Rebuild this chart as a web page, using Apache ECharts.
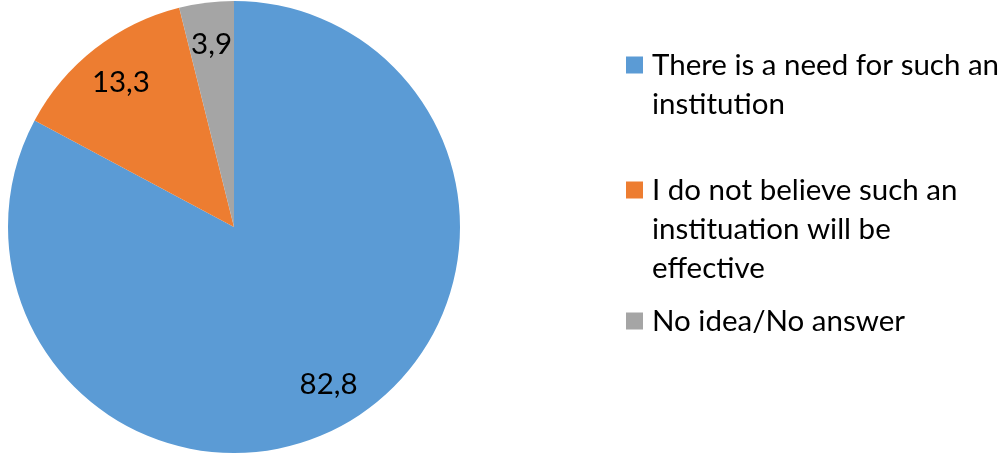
<!DOCTYPE html>
<html>
<head>
<meta charset="utf-8">
<script src="https://cdn.jsdelivr.net/npm/echarts@6/dist/echarts.min.js"></script>
<style>
  html, body { margin: 0; padding: 0; background: #fff; }
  #chart { width: 1005px; height: 459px; }
</style>
</head>
<body>
<div id="chart"></div>
<script>
// Survey answers, in percent
const categories = [
  'There is a need for such an institution',
  'I do not believe such an instituation will be effective',
  'No idea/No answer'
];
const values = [82.8, 13.3, 3.9];
// Legend text broken into lines
const legendLines = [
  ['There is a need for such an', 'institution'],
  ['I do not believe such an', 'instituation will be', 'effective'],
  ['No idea/No answer']
];
const colors = ['#5B9BD5', '#ED7D31', '#A5A5A5'];

const FONT = 'Lato';
const FONT_SIZE = 29.5;
const LINE_H = 39;
const CX = 234, CY = 227, R = 226;

const pieData = categories.map((name, i) => ({
  name: name,
  value: values[i],
  itemStyle: { color: colors[i] }
}));

// One legend per entry; blank lines above the text keep each square
// level with the first line of its label
const iconCenters = [65, 190, 321];
const textRaise = [12, 0, 0];
const legends = categories.map((name, i) => {
  const n = legendLines[i].length;
  const block = (2 * n - 1) * LINE_H + textRaise[i];
  return {
    data: [name],
    orient: 'vertical',
    left: 626,
    top: iconCenters[i] - block / 2,
    padding: 0,
    itemWidth: 17,
    itemHeight: 17,
    icon: 'rect',
    selectedMode: false,
    formatter: () => '\n'.repeat(n - 1) + legendLines[i].join('\n'),
    textStyle: {
      fontFamily: FONT,
      fontSize: FONT_SIZE,
      lineHeight: LINE_H,
      color: '#000',
      padding: [0, 0, textRaise[i], 4]
    }
  };
});

const chart = echarts.init(document.getElementById('chart'), null, { renderer: 'canvas' });
chart.setOption({
  animation: false,
  legend: legends,
  series: [
    {
      type: 'pie',
      center: [CX, CY],
      radius: [0, R],
      startAngle: 90,
      clockwise: true,
      silent: true,
      label: { show: false },
      labelLine: { show: false },
      data: pieData
    },
    {
      // value labels, placed toward the rim of each slice
      type: 'pie',
      center: [CX, CY],
      radius: [R * 0.6, R],
      startAngle: 90,
      clockwise: true,
      silent: true,
      itemStyle: { color: 'rgba(0,0,0,0)' },
      label: {
        show: true,
        position: 'inside',
        fontFamily: FONT,
        fontSize: FONT_SIZE,
        color: '#000',
        formatter: p => String(p.value).replace('.', ',')
      },
      labelLine: { show: false },
      data: pieData.map(d => ({ name: d.name, value: d.value }))
    }
  ]
});
</script>
</body>
</html>
